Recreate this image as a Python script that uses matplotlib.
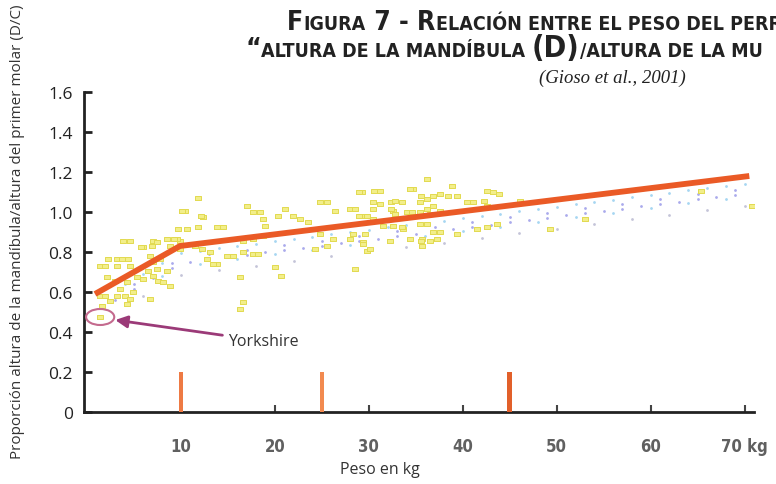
import matplotlib
matplotlib.use("Agg")
import matplotlib.pyplot as plt
from matplotlib.patches import Ellipse

## DATA
# yellow points: peso (kg) vs proporción D/C
peso_kg = [11.8, 10.4, 12.3, 11.8, 13.8, 14.5, 9.7, 10.6, 17.0, 17.7, 18.4, 18.7, 18.9, 21.1, 21.9,
           22.7, 23.5, 20.3, 24.8, 25.5, 26.4, 28.3, 29.3, 30.6, 30.4, 30.4, 32.4, 33.5, 32.6, 34.1,
           34.7, 36.2, 36.2, 36.2, 29.6, 30.9, 31.5, 24.8, 26.2, 25.5, 28.0, 29.4, 29.8, 24.3, 32.6,
           33.6, 34.4, 35.7, 35.7, 28.5, 16.6, 17.7, 18.2, 14.9, 15.5, 13.8, 16.6, 17.7, 18.7, 20.0,
           20.7, 16.3, 16.6, 16.3, 11.5, 12.2, 13.1, 12.8, 13.4, 9.9, 9.9, 3.8, 4.6, 6.0, 6.9,
           7.0, 7.4, 8.5, 9.6, 8.8, 2.2, 3.2, 3.7, 4.4, 1.4, 1.9, 3.2, 4.6, 6.7, 7.0,
           7.8, 2.1, 3.0, 4.3, 5.3, 6.0, 7.0, 7.6, 8.1, 8.8, 6.5, 7.4, 8.5, 3.5, 4.0,
           4.9, 2.4, 3.2, 4.3, 4.6, 6.7, 1.4, 1.9, 1.6, 10.1, 12.1, 5.7, 9.3, 29.0, 31.2,
           31.2, 34.4, 32.8, 28.0, 28.5, 29.0, 29.8, 30.4, 32.4, 32.8, 35.6, 36.8, 37.6, 38.9, 38.4,
           39.4, 35.4, 36.8, 34.6, 35.4, 36.5, 37.6, 40.4, 41.1, 42.6, 43.2, 43.9, 42.3, 42.6, 41.5,
           42.6, 43.6, 39.4, 35.6, 36.5, 32.2, 29.4, 30.1, 28.3, 29.6, 35.4, 36.2, 36.8, 37.6, 33.5,
           37.3, 46.1, 53.0, 49.3, 65.4, 70.8]
ratio_dc = [1.07, 1.005, 0.975, 0.925, 0.925, 0.925, 0.915, 0.915, 1.03, 1.0, 1.0, 0.965, 0.93, 1.015, 0.98,
            0.965, 0.95, 0.98, 1.05, 1.05, 1.005, 1.015, 1.10, 1.105, 1.05, 1.015, 1.05, 1.05, 1.005, 1.0,
            1.115, 1.165, 1.065, 1.015, 0.98, 0.955, 0.93, 0.89, 0.865, 0.83, 0.865, 0.85, 0.805, 0.815, 0.93,
            0.915, 0.865, 0.865, 0.83, 0.715, 0.80, 0.79, 0.79, 0.78, 0.78, 0.74, 0.855, 0.865, 0.88, 0.725,
            0.68, 0.675, 0.55, 0.515, 0.83, 0.815, 0.80, 0.765, 0.74, 0.855, 0.815, 0.855, 0.855, 0.825, 0.83,
            0.855, 0.85, 0.865, 0.865, 0.83, 0.765, 0.765, 0.765, 0.765, 0.73, 0.73, 0.73, 0.73, 0.78, 0.75,
            0.765, 0.675, 0.655, 0.65, 0.675, 0.665, 0.68, 0.655, 0.65, 0.63, 0.705, 0.715, 0.705, 0.615, 0.58,
            0.60, 0.555, 0.58, 0.54, 0.565, 0.565, 0.58, 0.58, 0.53, 1.005, 0.98, 0.825, 0.865, 1.10, 1.105,
            1.04, 1.115, 1.055, 1.015, 1.015, 0.98, 0.98, 0.965, 1.015, 0.99, 1.08, 1.08, 1.09, 1.13, 1.08,
            1.08, 1.05, 1.03, 1.0, 1.0, 0.99, 1.005, 1.05, 1.05, 1.105, 1.10, 1.09, 1.055, 1.03, 0.915,
            0.925, 0.94, 0.89, 0.855, 0.855, 0.855, 0.84, 0.815, 0.89, 0.89, 0.94, 0.94, 0.90, 0.90, 0.925,
            0.865, 1.055, 0.965, 0.915, 1.105, 1.03]

# Yorkshire point
york_kg, york_dc = 1.4, 0.475

# blue dotted band under the line (rows of dots)
band_a_kg = [2, 4, 6, 8, 10, 12, 14, 16, 18, 20, 22, 24, 26, 28, 30, 32, 34, 36, 38, 40, 42, 44,
             46, 48, 50, 52, 54, 56, 58, 60, 62, 64, 66, 68, 70]
band_a_dc = [0.585, 0.638, 0.691, 0.745, 0.795, 0.807, 0.819, 0.83, 0.842, 0.853, 0.865, 0.876, 0.888,
             0.90, 0.911, 0.923, 0.934, 0.946, 0.957, 0.969, 0.981, 0.992, 1.004, 1.015, 1.027, 1.038,
             1.05, 1.061, 1.073, 1.085, 1.096, 1.108, 1.119, 1.131, 1.142]
band_b_kg = [3, 5, 7, 9, 11, 13, 15, 17, 19, 21, 23, 25, 27, 29, 31, 33, 35, 37, 39, 41, 43, 45,
             47, 49, 51, 53, 55, 57, 59, 61, 63, 65, 67, 69]
band_b_dc = [0.562, 0.615, 0.668, 0.72, 0.751, 0.763, 0.774, 0.786, 0.798, 0.809, 0.821, 0.832, 0.844,
             0.855, 0.867, 0.879, 0.89, 0.902, 0.913, 0.925, 0.936, 0.948, 0.959, 0.971, 0.983, 0.994,
             1.006, 1.017, 1.029, 1.04, 1.052, 1.063, 1.075, 1.086]
band_c_kg = [4, 8, 12, 16, 20, 24, 28, 32, 36, 40, 44, 48, 52, 56, 60, 64, 68]
band_c_dc = [0.573, 0.68, 0.742, 0.765, 0.788, 0.811, 0.835, 0.858, 0.881, 0.904, 0.927, 0.95, 0.973,
             0.996, 1.02, 1.043, 1.066]
band_d_kg = [6, 10, 14, 18, 22, 26, 30, 34, 38, 42, 46, 50, 54, 58, 62, 66, 70]
band_d_dc = [0.581, 0.685, 0.709, 0.732, 0.755, 0.778, 0.801, 0.824, 0.847, 0.871, 0.894, 0.917, 0.94,
             0.963, 0.986, 1.009, 1.032]
band_e_kg = [5, 9, 13, 17, 21, 25, 29, 33, 37, 41, 45, 49, 53, 57, 61, 65, 69]
band_e_dc = [0.64, 0.746, 0.788, 0.811, 0.834, 0.857, 0.88, 0.904, 0.927, 0.95, 0.973, 0.996, 1.019,
             1.042, 1.065, 1.088, 1.111]

# fitted broken line
linea_kg = [0.85, 9.9, 70.5]
linea_dc = [0.59, 0.83, 1.18]

# orange markers on the x axis
barras_kg = [10, 25, 45]
barras_alto = [0.2, 0.2, 0.2]
barras_col = ['#ee7a44', '#f28a50', '#e2602a']

x_ticks = [10, 20, 30, 40, 50, 60, 70]
x_labels = ['10', '20', '30', '40', '50', '60', '70 kg']
y_ticks = [0, 0.2, 0.4, 0.6, 0.8, 1.0, 1.2, 1.4, 1.6]
y_labels = ['0', '0.2', '0.4', '0.6', '0.8', '1.0', '1.2', '1.4', '1.6']

W, H = 776, 485
fig = plt.figure(figsize=(W / 100, H / 100), dpi=100)
fig.patch.set_facecolor('white')

ax = fig.add_axes([84 / W, 1 - 413 / H, (754 - 84) / W, (413 - 93) / H])
ax.set_xlim(-0.32, 71.0)
ax.set_ylim(0, 1.6)

ax.scatter(band_a_kg, band_a_dc, s=4, color='#a6d6f2', linewidths=0, zorder=2)
ax.scatter(band_b_kg, band_b_dc, s=4, color='#aaaaec', linewidths=0, zorder=2)
ax.scatter(band_c_kg, band_c_dc, s=4, color='#a6d6f2', linewidths=0, zorder=2)
ax.scatter(band_d_kg, band_d_dc, s=4, color='#c4c4d8', linewidths=0, zorder=2)
ax.scatter(band_e_kg, band_e_dc, s=4, color='#aaaaec', linewidths=0, zorder=2)

rect = [(-1, -0.5), (1, -0.5), (1, 0.5), (-1, 0.5), (-1, -0.5)]
ax.scatter(peso_kg, ratio_dc, marker=rect, s=24, facecolor='#f2ee8a', edgecolor='#e2da50',
           linewidth=0.7, zorder=3)
ax.scatter([york_kg], [york_dc], marker=rect, s=24, facecolor='#f2ee8a', edgecolor='#e2da50',
           linewidth=0.7, zorder=3)

ax.plot(linea_kg, linea_dc, color='#ea5a26', lw=4.2, solid_capstyle='butt', zorder=4)

ax.bar(barras_kg, barras_alto, width=0.5, color=barras_col, zorder=4)

# Yorkshire ellipse + arrow
ax.add_patch(Ellipse((york_kg, york_dc), 3.0, 0.08, fill=False, edgecolor='#c46a8e', lw=1.5, zorder=5))
ax.annotate('Yorkshire', xy=(3.0, 0.46), xytext=(15.0, 0.355),
            fontsize=11.5, family='Open Sans', color='#333333', va='center', ha='left',
            arrowprops=dict(arrowstyle='-|>', color='#9b3a78', lw=2, mutation_scale=18,
                            shrinkA=2, shrinkB=0))

for s in ['top', 'right']:
    ax.spines[s].set_visible(False)
for s in ['left', 'bottom']:
    ax.spines[s].set_linewidth(2)
    ax.spines[s].set_linestyle((0, (2, 1)))
    ax.spines[s].set_color('#222222')

ax.set_yticks(y_ticks)
ax.set_yticklabels(y_labels, family='Open Sans', fontsize=12.5, color='#222222')
ax.tick_params(axis='y', direction='in', length=6, width=2, pad=8, color='#222222')
ax.set_xticks(x_ticks)
ax.set_xticklabels(x_labels, family='DejaVu Sans', fontstretch='condensed', fontweight='bold',
                   fontsize=12, color='#606060')
ax.tick_params(axis='x', direction='in', length=5, width=1.5, pad=18, color='#444444')

fig.text(380 / W, 1 - 470 / H, 'Peso en kg', ha='center', va='center',
         family='Open Sans', fontsize=11.5, color='#333333')
fig.text(18 / W, 1 - 232 / H, 'Proporción altura de la mandíbula/altura del primer molar (D/C)',
         rotation=90, ha='center', va='center', family='Open Sans', fontsize=11, color='#333333')


# title in small caps, drawn piece by piece
def small_caps(x_px, y_px, runs):
    renderer = fig.canvas.get_renderer()
    x = x_px
    for txt, size in runs:
        t = fig.text(x / W, 1 - y_px / H, txt, fontsize=size, fontweight='bold',
                     family='DejaVu Sans', fontstretch='condensed', color='#222222',
                     ha='left', va='baseline')
        x = t.get_window_extent(renderer).x1 + 0.3


big, small = 19, 14
small_caps(287, 30, [('F', big), ('IGURA', small), (' 7 - ', big), ('R', big),
                     ('ELACIÓN ENTRE EL PESO DEL PERRO', small)])
small_caps(245, 57, [('“', big), ('ALTURA DE LA MANDÍBULA ', small), ('(D)', big + 3),
                     ('/ALTURA DE LA MU', small)])
fig.text(612 / W, 1 - 78 / H, '(Gioso et al., 2001)', ha='center', va='center',
         family='Liberation Serif', style='italic', fontsize=13.5, color='#222222')

fig.savefig('out.png', dpi=100, facecolor='white')
